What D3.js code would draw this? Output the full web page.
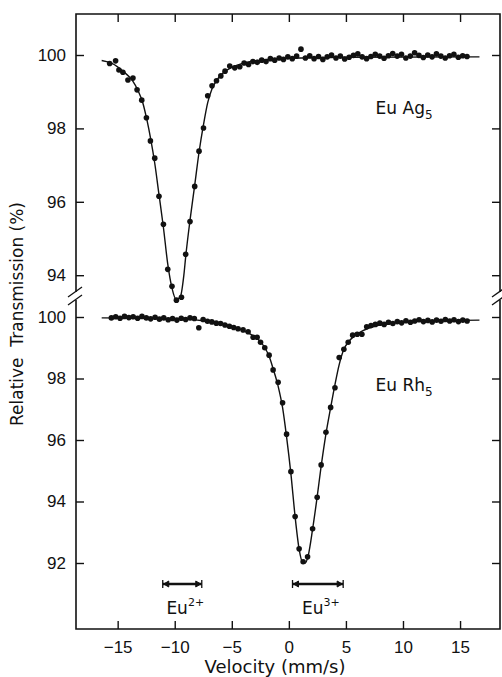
<!DOCTYPE html>
<html>
<head>
<meta charset="utf-8">
<script src="https://cdn.jsdelivr.net/npm/d3@7"></script>
<style>
  body { margin: 0; background: #fff; }
  svg text { fill: #111; }
</style>
</head>
<body>
<div id="chart"></div>
<script>
// velocity / transmission readings, EuAg5 (upper panel)
var upperV = [-15.70, -15.18, -14.89, -14.54, -14.10, -13.66, -13.30, -12.89, -12.48, -12.13,
  -11.75, -11.38, -10.99, -10.61, -10.24, -9.85, -9.41, -9.04, -8.66, -8.25,
  -7.87, -7.48, -7.11, -6.73, -6.34, -5.96, -5.59, -5.18, -4.74, -4.30,
  -3.92, -3.53, -3.15, -2.77, -2.38, -2.00, -1.62, -1.24, -0.85, -0.47,
  -0.09, 0.30, 0.68, 1.06, 1.45, 1.83, 2.21, 2.60, 2.98, 3.36,
  3.74, 4.13, 4.51, 4.89, 5.28, 5.66, 6.04, 6.42, 6.81, 7.19,
  7.57, 7.96, 8.34, 8.72, 9.10, 9.49, 9.87, 10.25, 10.64, 11.02,
  11.40, 11.78, 12.17, 12.55, 12.93, 13.32, 13.70, 14.08, 14.46, 14.85,
  15.23, 15.61]
var upperT = [99.77, 99.84, 99.59, 99.53, 99.32, 99.37, 99.05, 98.77, 98.29, 97.66,
  97.19, 96.15, 95.39, 94.16, 93.70, 93.32, 93.40, 94.57, 95.46, 96.42,
  97.38, 98.01, 98.89, 99.16, 99.30, 99.43, 99.56, 99.70, 99.65, 99.68,
  99.78, 99.74, 99.82, 99.80, 99.86, 99.82, 99.90, 99.86, 99.92, 99.88,
  99.95, 99.90, 99.97, 100.16, 99.92, 99.98, 99.90, 99.96, 99.88, 99.95,
  100.00, 99.92, 99.97, 99.89, 99.94, 99.99, 100.03, 99.95, 99.90, 99.96,
  100.02, 99.97, 99.91, 99.98, 100.04, 99.97, 100.02, 99.92, 99.97, 100.06,
  99.99, 99.93, 100.00, 99.95, 100.03, 99.97, 99.92, 99.98, 100.02, 99.94,
  99.98, 99.96]

// EuRh5 (lower panel)
var lowerV = [-15.55, -15.17, -14.79, -14.40, -14.02, -13.64, -13.25, -12.87, -12.49, -12.11,
  -11.72, -11.34, -10.96, -10.57, -10.19, -9.81, -9.43, -9.04, -8.66, -8.28,
  -7.89, -7.51, -7.13, -6.75, -6.36, -5.98, -5.60, -5.21, -4.83, -4.45,
  -4.01, -3.57, -3.13, -2.78, -2.48, -2.11, -1.73, -1.38, -0.94, -0.55,
  -0.20, 0.18, 0.55, 0.90, 1.25, 1.64, 2.08, 2.48, 2.83, 3.25,
  3.66, 4.04, 4.41, 4.82, 5.20, 5.59, 5.99, 6.40, 6.82, 7.20,
  7.58, 7.97, 8.35, 8.73, 9.11, 9.50, 9.88, 10.26, 10.65, 11.03,
  11.41, 11.79, 12.18, 12.56, 12.94, 13.33, 13.71, 14.09, 14.47, 14.86,
  15.24, 15.62]
var lowerT = [99.97, 100.01, 99.96, 100.02, 99.98, 100.01, 99.96, 100.02, 99.97, 99.94,
  99.99, 99.93, 99.97, 99.91, 99.95, 99.90, 99.96, 99.92, 99.97, 99.95,
  99.65, 99.92, 99.86, 99.84, 99.80, 99.79, 99.74, 99.70, 99.66, 99.62,
  99.58, 99.52, 99.34, 99.34, 99.18, 99.00, 98.76, 98.28, 97.88, 97.21,
  96.19, 94.97, 93.51, 92.46, 92.04, 92.20, 93.11, 94.14, 95.19, 96.25,
  97.06, 97.70, 98.68, 98.95, 99.18, 99.41, 99.44, 99.44, 99.68, 99.72,
  99.76, 99.80, 99.76, 99.83, 99.79, 99.85, 99.81, 99.88, 99.83, 99.87,
  99.91, 99.85, 99.89, 99.84, 99.90, 99.86, 99.92, 99.87, 99.91, 99.85,
  99.90, 99.87]

// fitted curves
var upperFitV = [-16.4, -15.5, -14.5, -13.7, -13.2, -12.8, -12.45, -12.1, -11.75, -11.38,
  -10.99, -10.61, -10.24, -9.85, -9.5, -9.2, -9.04, -8.66, -8.25, -7.87,
  -7.48, -7.11, -6.73, -6.34, -5.8, -5.0, -4.0, -2.5, 0, 5, 16.7]
var upperFitT = [99.85, 99.77, 99.55, 99.30, 99.02, 98.70, 98.25, 97.70, 97.05, 96.20,
  95.30, 94.30, 93.65, 93.33, 93.42, 94.00, 94.50, 95.50, 96.45, 97.35,
  98.10, 98.70, 99.08, 99.30, 99.50, 99.66, 99.78, 99.86, 99.91, 99.94, 99.95]

var lowerFitV = [-16.4, -12, -9, -7.5, -6.5, -5.5, -4.5, -4.0, -3.5, -3.0,
  -2.5, -2.1, -1.73, -1.38, -0.94, -0.55, -0.2, 0.18, 0.55, 0.9,
  1.2, 1.45, 1.7, 2.08, 2.48, 2.83, 3.25, 3.66, 4.04, 4.41,
  4.82, 5.2, 5.8, 6.5, 7.5, 9, 12, 16.7]
var lowerFitT = [99.97, 99.96, 99.93, 99.88, 99.82, 99.74, 99.63, 99.56, 99.47, 99.36,
  99.20, 99.00, 98.72, 98.32, 97.75, 97.05, 96.10, 94.90, 93.50, 92.45,
  92.02, 92.00, 92.25, 93.10, 94.15, 95.15, 96.20, 97.05, 97.80, 98.45,
  98.95, 99.18, 99.40, 99.56, 99.70, 99.80, 99.87, 99.90]

var xTicks = [-15, -10, -5, 0, 5, 10, 15]
var upperTicks = [94, 96, 98, 100]
var lowerTicks = [92, 94, 96, 98, 100]

// valence ranges marked under the lower spectrum
var markerSup = ["2+", "3+"]
var markerFrom = [-11.05, 0.32]
var markerTo = [-7.63, 4.76]

var sampleNames = ["Ag", "Rh"]

var width = 502, height = 677
var frame = {left: 76, right: 500, top: 14, bottom: 629}
var breakTop = 292, breakBottom = 300

var svg = d3.select("#chart")
  .append("svg")
  .attr("width", width)
  .attr("height", height)
  .style("font-family", "'DejaVu Sans', sans-serif")

var xScale = d3.scaleLinear()
  .domain([-18.65, 18.5])
  .range([frame.left, frame.right])

var yUpper = d3.scaleLinear()
  .domain([94, 100])
  .range([275.2, 55])

var yLower = d3.scaleLinear()
  .domain([92, 100])
  .range([563, 317])

// frame with the axis breaks
var frameG = svg.append("g")
  .attr("stroke", "#111")
  .attr("stroke-width", 1.6)
  .attr("fill", "none")

frameG.append("path")
  .attr("d", `M${frame.left},${breakTop} V${frame.top} H${frame.right} V${breakTop}`)
frameG.append("path")
  .attr("d", `M${frame.left},${breakBottom} V${frame.bottom} H${frame.right} V${breakBottom}`)

;[frame.left, frame.right].forEach(function(ax) {
  [breakTop, breakBottom].forEach(function(by) {
    frameG.append("line")
      .attr("x1", ax - 8).attr("y1", by + 5)
      .attr("x2", ax + 6).attr("y2", by - 5)
      .attr("stroke-width", 1.3)
  })
})

function styleAxis(g) {
  g.select(".domain").remove()
  g.selectAll(".tick line").attr("stroke", "#111").attr("stroke-width", 1.4)
  g.selectAll(".tick text")
    .style("font-family", "'Liberation Sans', Arial, sans-serif")
    .style("font-size", "17px")
    .attr("fill", "#111")
}

// X axis (bottom) and top ticks
svg.append("g")
  .attr("transform", `translate(0,${frame.bottom})`)
  .call(d3.axisBottom(xScale).tickValues(xTicks).tickSize(-8).tickPadding(12))
  .call(styleAxis)

svg.append("g")
  .attr("transform", `translate(0,${frame.top})`)
  .call(d3.axisTop(xScale).tickValues(xTicks).tickSize(-8).tickFormat(""))
  .call(styleAxis)

// Y axes, both panels
;[[yUpper, upperTicks], [yLower, lowerTicks]].forEach(function(p) {
  svg.append("g")
    .attr("transform", `translate(${frame.left},0)`)
    .call(d3.axisLeft(p[0]).tickValues(p[1]).tickSize(-8).tickPadding(10).tickFormat(d3.format("d")))
    .call(styleAxis)
  svg.append("g")
    .attr("transform", `translate(${frame.right},0)`)
    .call(d3.axisRight(p[0]).tickValues(p[1]).tickSize(-8).tickFormat(""))
    .call(styleAxis)
})

// fits and data points
var panels = [
  {v: upperV, t: upperT, fv: upperFitV, ft: upperFitT, y: yUpper},
  {v: lowerV, t: lowerT, fv: lowerFitV, ft: lowerFitT, y: yLower}
]

panels.forEach(function(p) {
  var line = d3.line()
    .x(function(d, i) { return xScale(p.fv[i]) })
    .y(function(d, i) { return p.y(p.ft[i]) })
    .curve(d3.curveMonotoneX)

  svg.append("path")
    .datum(p.fv)
    .attr("d", line)
    .attr("fill", "none")
    .attr("stroke", "#111")
    .attr("stroke-width", 1.4)

  svg.append("g")
    .selectAll("circle")
    .data(p.v)
    .enter()
    .append("circle")
    .attr("cx", function(d) { return xScale(d) })
    .attr("cy", function(d, i) { return p.y(p.t[i]) })
    .attr("r", 2.8)
    .attr("fill", "#111")
})

// sample labels
var sampleY = [yUpper(98.4), yLower(97.6)]
sampleNames.forEach(function(name, i) {
  var t = svg.append("text")
    .attr("x", xScale(7.6))
    .attr("y", sampleY[i])
    .style("font-size", "17px")
  t.append("tspan").text("Eu " + name)
  t.append("tspan").attr("dy", 5).style("font-size", "12px").text("5")
})

// Eu2+ / Eu3+ range markers
var markY = 584
markerSup.forEach(function(sup, i) {
  var x1 = xScale(markerFrom[i]), x2 = xScale(markerTo[i])
  var g = svg.append("g").attr("stroke", "#111")
  g.append("line")
    .attr("x1", x1).attr("x2", x2)
    .attr("y1", markY).attr("y2", markY)
    .attr("stroke-width", 2.6)
  ;[x1, x2].forEach(function(xx) {
    g.append("line")
      .attr("x1", xx).attr("x2", xx)
      .attr("y1", markY - 4).attr("y2", markY + 4)
      .attr("stroke-width", 1.3)
  })
  g.append("path")
    .attr("d", `M${x1 + 1},${markY} l5,-3 v6 Z M${x2 - 1},${markY} l-5,-3 v6 Z`)
    .attr("fill", "#111")
  var t = svg.append("text")
    .attr("x", (x1 + x2) / 2 + 3)
    .attr("y", 614)
    .attr("text-anchor", "middle")
    .style("font-size", "17px")
  t.append("tspan").text("Eu")
  t.append("tspan").attr("dy", -8).style("font-size", "11px").text(sup)
})

// axis titles
svg.append("text")
  .attr("x", 275)
  .attr("y", 673)
  .attr("text-anchor", "middle")
  .style("font-size", "18px")
  .text("Velocity (mm/s)")

svg.append("text")
  .attr("transform", "translate(23,314) rotate(-90)")
  .attr("text-anchor", "middle")
  .style("font-size", "17px")
  .style("white-space", "pre")
  .text("Relative  Transmission (%)")
</script>
</body>
</html>
